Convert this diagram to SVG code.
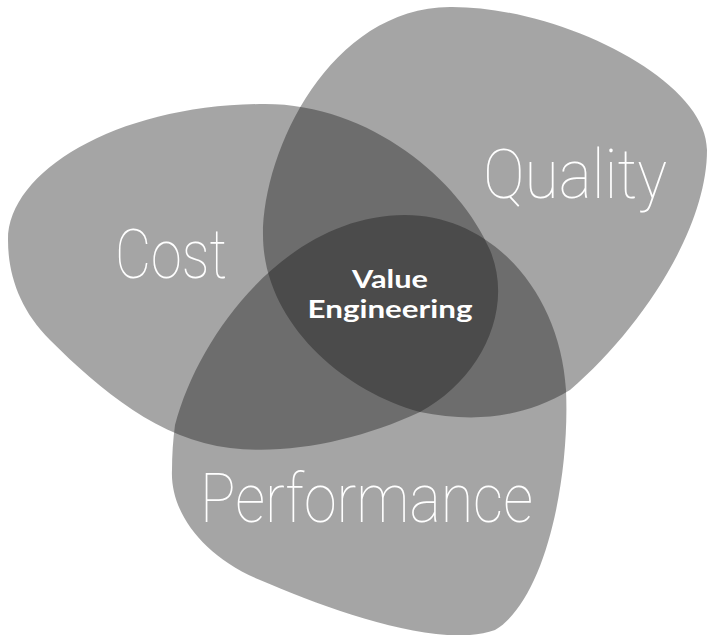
<svg xmlns="http://www.w3.org/2000/svg" width="707" height="635" viewBox="0 0 707 635">
  <style>
    .blob { fill: #141416; fill-opacity: 0.385; }
    .label { fill: #ffffff; font-family: "Roboto", "Open Sans", "Liberation Sans", sans-serif; font-weight: 100; font-size: 68px; }
    .core { fill: #ffffff; font-family: "Lato", "Open Sans", "Liberation Sans", sans-serif; font-weight: 700; font-size: 25px; text-anchor: middle; }
  </style>
  <rect width="707" height="635" fill="#ffffff"/>
  <!-- three overlapping translucent blobs; overlaps darken naturally -->
  <g id="cost">
    <path class="blob" d="M 8,240 C 8,170 120,104 265,104 C 370,104 460,180 490,250 C 515,310 480,380 420,412 C 360,440 290,455 230,448 C 160,440 100,390 50,340 C 20,310 8,275 8,240 Z"/>
  </g>
  <g id="quality">
    <path class="blob" d="M 263,235 C 263,150 330,8 450,7 C 560,6 707,80 707,150 C 707,230 640,330 570,390 C 520,420 470,422 420,412 C 340,390 263,320 263,235 Z"/>
  </g>
  <g id="performance">
    <path class="blob" d="M 175,425 C 200,330 290,215 405,215 C 490,215 560,290 566,390 C 570,480 545,600 495,630 C 440,650 330,610 260,580 C 200,555 170,510 172,470 C 172,455 173,440 175,425 Z"/>
  </g>
  <g id="labels">
    <text class="label" x="115" y="278" textLength="112" lengthAdjust="spacingAndGlyphs">Cost</text>
    <text class="label" x="483" y="198" textLength="184" lengthAdjust="spacingAndGlyphs">Quality</text>
    <text class="label" x="200" y="522" textLength="333" lengthAdjust="spacingAndGlyphs">Performance</text>
    <text class="core" x="390" y="288" textLength="76" lengthAdjust="spacingAndGlyphs">Value</text>
    <text class="core" x="390" y="318" textLength="165" lengthAdjust="spacingAndGlyphs">Engineering</text>
  </g>
</svg>
